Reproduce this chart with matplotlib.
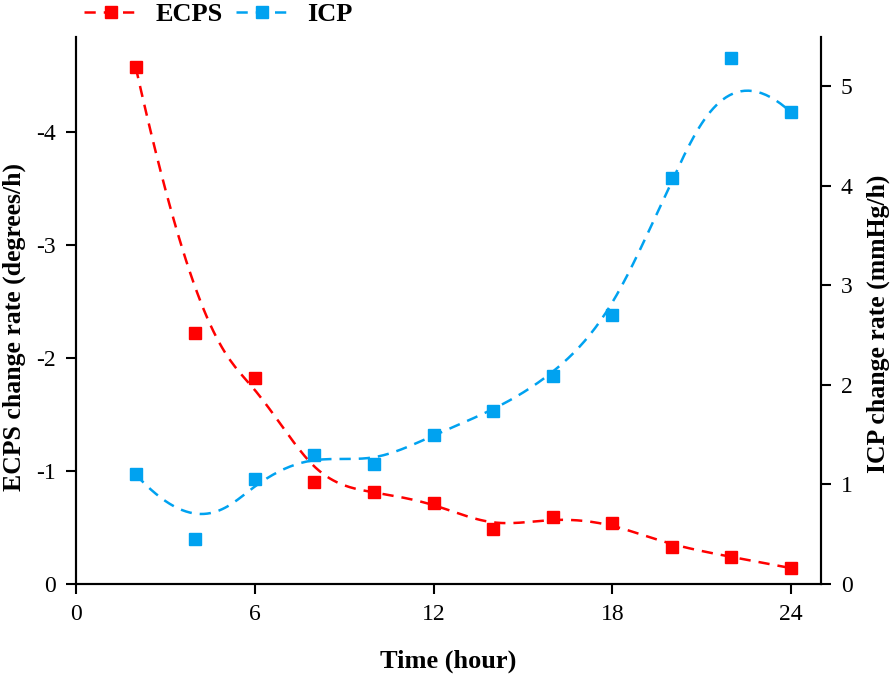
import numpy as np
import matplotlib as mpl
import matplotlib.pyplot as plt
from matplotlib.lines import Line2D

mpl.rcParams['font.family'] = ['Liberation Serif', 'DejaVu Serif']
mpl.rcParams['font.size'] = 17

# data
hours = [2, 4, 6, 8, 10, 12, 14, 16, 18, 20, 22, 24]
ecps = [-4.57, -2.22, -1.82, -0.90, -0.81, -0.72, -0.49, -0.59, -0.54, -0.33, -0.24, -0.14]
icp = [1.10, 0.45, 1.05, 1.30, 1.21, 1.50, 1.74, 2.09, 2.70, 4.08, 5.29, 4.74]

RED = '#ff0000'
BLUE = '#00a2f0'


def bspline(xs, ys, n=300):
    # clamped cubic B-spline, data points used as control points (Origin style)
    P = np.column_stack([xs, ys]).astype(float)
    k = 3
    m = len(P)
    knots = np.concatenate([np.zeros(k), np.arange(m - k + 1), np.full(k, m - k)]).astype(float)
    ts = np.linspace(0, m - k, n)
    out = []
    for t in ts:
        i = np.searchsorted(knots, t, side='right') - 1
        i = min(i, m - 1)
        d = [P[j + i - k].copy() for j in range(k + 1)]
        for r in range(1, k + 1):
            for j in range(k, r - 1, -1):
                a = (t - knots[j + i - k]) / (knots[j + 1 + i - r] - knots[j + i - k])
                d[j] = (1 - a) * d[j - 1] + a * d[j]
        out.append(d[k])
    out = np.array(out)
    return out[:, 0], out[:, 1]


fig = plt.figure(figsize=(8.96, 6.79), dpi=100)
ax = fig.add_axes([0.085, 0.14, 0.831, 0.806])
ax2 = ax.twinx()

dash = (0, (4.5, 3.2))
sx, sy = bspline(hours, ecps)
ax.plot(sx, sy, color=RED, lw=1.8, linestyle=dash)
ax.plot(hours, ecps, 's', color=RED, ms=8, mec=RED)
sx, sy = bspline(hours, icp)
ax2.plot(sx, sy, color=BLUE, lw=1.8, linestyle=dash)
ax2.plot(hours, icp, 's', color=BLUE, ms=8, mec=BLUE)

ax.set_xlim(0, 25)
ax.set_xticks([0, 6, 12, 18, 24])
ax.set_ylim(0, -4.84)
ax.set_yticks([0, -1, -2, -3, -4])
ax.set_yticklabels(['0', '-1', '-2', '-3', '-4'])
ax2.set_ylim(0, 5.5)
ax2.set_yticks([0, 1, 2, 3, 4, 5])

for a in (ax, ax2):
    a.spines['top'].set_visible(False)
    for s in a.spines.values():
        s.set_linewidth(1.5)
    a.tick_params(direction='out', length=7.5, width=1.5, labelsize=17, pad=7)

ax.set_xlabel('Time (hour)', fontweight='bold', fontsize=19)
ax.set_ylabel('ECPS change rate (degrees/h)', fontweight='bold', fontsize=18.5)
ax2.set_ylabel('ICP change rate (mmHg/h)', fontweight='bold', fontsize=18.5)
ax.xaxis.set_label_coords(0.5, -0.12)
ax.yaxis.set_label_coords(-0.068, 0.47)
ax2.yaxis.set_label_coords(1.062, 0.475)

handles = [
    Line2D([], [], color=RED, lw=1.8, linestyle=dash, marker='s', ms=8),
    Line2D([], [], color=BLUE, lw=1.8, linestyle=dash, marker='s', ms=8),
]
fig.legend(handles, ['ECPS', 'ICP'], loc='upper left', bbox_to_anchor=(0.094, 0.996),
           ncol=2, frameon=False, numpoints=1, handlelength=2.0, columnspacing=0.5,
           handletextpad=0.7, borderpad=0, borderaxespad=0,
           prop={'weight': 'bold', 'size': 19})

fig.savefig('out.png', dpi=100)
